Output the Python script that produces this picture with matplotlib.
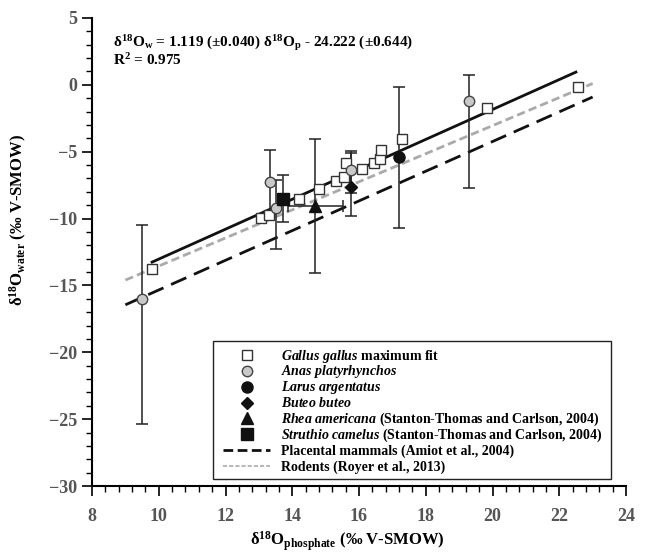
import numpy as np
import matplotlib.pyplot as plt
from matplotlib.ticker import MultipleLocator
from matplotlib.patches import Rectangle

plt.rcParams['font.family'] = ['Liberation Serif', 'DejaVu Serif']
plt.rcParams['font.weight'] = 'bold'
plt.rcParams['mathtext.fontset'] = 'custom'
plt.rcParams['mathtext.rm'] = 'Liberation Serif:bold'
plt.rcParams['mathtext.bf'] = 'Liberation Serif:bold'
plt.rcParams['mathtext.it'] = 'Liberation Serif:bold:italic'

# Gallus gallus (maximum fit)
gallus_x = [9.79, 13.05, 13.30, 14.21, 14.81, 15.31, 15.54, 15.60, 16.10, 16.44, 16.62, 16.67, 17.30, 19.85, 22.56]
gallus_y = [-13.78, -9.95, -9.70, -8.51, -7.81, -7.17, -6.87, -5.87, -6.29, -5.87, -5.57, -4.87, -4.03, -1.76, -0.14]

# Anas platyrhynchos
anas_x = [9.49, 13.33, 13.51, 15.77, 19.30]
anas_y = [-16.0, -7.24, -9.24, -6.37, -1.18]
anas_lo = [9.35, 2.40, 3.00, 1.74, 6.50]
anas_hi = [5.53, 2.35, 2.10, 1.25, 1.90]

# Larus argentatus
larus_x = [17.20]
larus_y = [-5.42]
larus_err = [5.28]

# Buteo buteo
buteo_x = [15.77]
buteo_y = [-7.66]
buteo_lo = [2.15]
buteo_hi = [2.74]

# Rhea americana
rhea_x = [14.69]
rhea_y = [-9.06]
rhea_yerr = [4.98]
rhea_xerr = [0.82]

# Struthio camelus
struthio_x = [13.71]
struthio_y = [-8.56]
struthio_lo = [1.67]
struthio_hi = [1.82]

# regression lines
fit_slope, fit_icpt, fit_range = 1.119, -24.222, [9.8, 22.5]
plac_slope, plac_icpt, plac_range = 1.11, -26.44, [9.0, 23.0]
rod_slope, rod_icpt, rod_range = 1.05, -24.05, [9.0, 23.0]

# legend entries: italic part, plain part
leg_italic = ['Gallus gallus', 'Anas platyrhynchos', 'Larus argentatus', 'Buteo buteo',
              'Rhea americana', 'Struthio camelus', '', '']
leg_plain = [' maximum fit', '', '', '', ' (Stanton-Thomas and Carlson, 2004)',
             ' (Stanton-Thomas and Carlson, 2004)', 'Placental mammals (Amiot et al., 2004)',
             'Rodents (Royer et al., 2013)']

sq_style = dict(marker='s', ms=7, mfc='white', mec='#333333', mew=1.0)
anas_style = dict(marker='o', ms=7.5, mfc='#c8c8c8', mec='#444444', mew=1.0)
larus_style = dict(marker='o', ms=8, mfc='#111111', mec='#111111')
buteo_style = dict(marker='D', ms=6.5, mfc='#111111', mec='#111111')
rhea_style = dict(marker='^', ms=9, mfc='#111111', mec='#111111')
stru_style = dict(marker='s', ms=8.5, mfc='#111111', mec='#111111')
plac_style = dict(color='#111111', lw=2, dashes=(6, 3))
rod_style = dict(color='#aaaaaa', lw=2, dashes=(3, 1.5))

fig = plt.figure(figsize=(6.48, 5.55), dpi=100)
ax = fig.add_axes([92/648, 1-486/555, (626-92)/648, (486-18)/555])

xs = np.array(plac_range)
ax.plot(xs, plac_slope*xs + plac_icpt, zorder=2, **plac_style)
xs = np.array(rod_range)
ax.plot(xs, rod_slope*xs + rod_icpt, zorder=2, **rod_style)
xs = np.array(fit_range)
ax.plot(xs, fit_slope*xs + fit_icpt, color='#111111', lw=2, zorder=2)

ekw = dict(capsize=4, elinewidth=1.1, capthick=1.1, ls='none', zorder=3, fmt='none', ecolor='#222222')
ax.errorbar(anas_x, anas_y, yerr=[anas_lo, anas_hi], **ekw)
ax.errorbar(larus_x, larus_y, yerr=larus_err, **ekw)
ax.errorbar(buteo_x, buteo_y, yerr=[buteo_lo, buteo_hi], **ekw)
ax.errorbar(rhea_x, rhea_y, yerr=rhea_yerr, xerr=rhea_xerr, **ekw)
ax.errorbar(struthio_x, struthio_y, yerr=[struthio_lo, struthio_hi], **ekw)

ax.plot(gallus_x, gallus_y, ls='none', zorder=4, **sq_style)
ax.plot(anas_x, anas_y, ls='none', zorder=5, **anas_style)
ax.plot(larus_x, larus_y, ls='none', zorder=5, **larus_style)
ax.plot(buteo_x, buteo_y, ls='none', zorder=5, **buteo_style)
ax.plot(rhea_x, rhea_y, ls='none', zorder=5, **rhea_style)
ax.plot(struthio_x, struthio_y, ls='none', zorder=5, **stru_style)

ax.set_xlim(8, 24)
ax.set_ylim(-30, 5)
ax.xaxis.set_major_locator(MultipleLocator(2))
ax.xaxis.set_minor_locator(MultipleLocator(0.4))
ax.yaxis.set_major_locator(MultipleLocator(5))
ax.yaxis.set_minor_locator(MultipleLocator(1))
for s in ['top', 'right']:
    ax.spines[s].set_visible(False)
for s in ['left', 'bottom']:
    ax.spines[s].set_linewidth(1.5)
ax.tick_params(which='major', direction='out', length=7, width=1.2, labelsize=13, labelcolor='#555555')
ax.tick_params(axis='x', which='major', pad=9)
ax.tick_params(which='minor', direction='out', length=4, width=1.0)
for lab in ax.get_xticklabels() + ax.get_yticklabels():
    lab.set_fontweight('bold')

ax.set_xlabel('δ$^{18}$O$_{\\mathrm{phosphate}}$ (‰ V-SMOW)', fontsize=12, fontweight='bold')
ax.xaxis.set_label_coords(0.478, -0.094)
ax.set_ylabel('δ$^{18}$O$_{\\mathrm{water}}$ (‰ V-SMOW)', fontsize=12, fontweight='bold')
ax.yaxis.set_label_coords(-0.118, 0.568)

ax.text(8.63, 3.13, 'δ$^{18}$O$_{\\mathrm{w}}$ = 1.119 (±0.040) δ$^{18}$O$_{\\mathrm{p}}$ - 24.222 (±0.644)',
        fontsize=11, fontweight='bold', va='center', ha='left')
ax.text(8.63, 1.86, 'R$^2$ = 0.975', fontsize=11, fontweight='bold', va='center', ha='left')

# legend box drawn by hand so every row has the same height
ax.add_patch(Rectangle((0.2266, 0.015), 0.745, 0.295, transform=ax.transAxes, fc='white',
                       ec='#222222', lw=1.0, zorder=6, clip_on=False))
leg_plac = dict(color='#111111', lw=2, dashes=(3.5, 1.6))
leg_rod = dict(color='#aaaaaa', lw=1.2, dashes=(2.5, 1.2))
styles = [sq_style, anas_style, larus_style, buteo_style, rhea_style, stru_style, leg_plac, leg_rod]
for i, (it, pl, st) in enumerate(zip(leg_italic, leg_plain, styles)):
    yy = (486 - (355 + 15.85*i)) / 468
    if 'marker' in st:
        ax.plot([0.2897], [yy], transform=ax.transAxes, ls='none', zorder=7, clip_on=False, **st)
    else:
        ax.plot([0.2453, 0.3333], [yy, yy], transform=ax.transAxes, zorder=7, clip_on=False, **st)
    txt = ('$\\mathit{' + it.replace(' ', '\\ ') + '}$' if it else '') + pl
    ax.text(0.3539, yy - 4.5/468, txt, transform=ax.transAxes, fontsize=10, fontweight='bold',
            va='baseline', ha='left', zorder=7)

plt.savefig('out.png', dpi=100)
